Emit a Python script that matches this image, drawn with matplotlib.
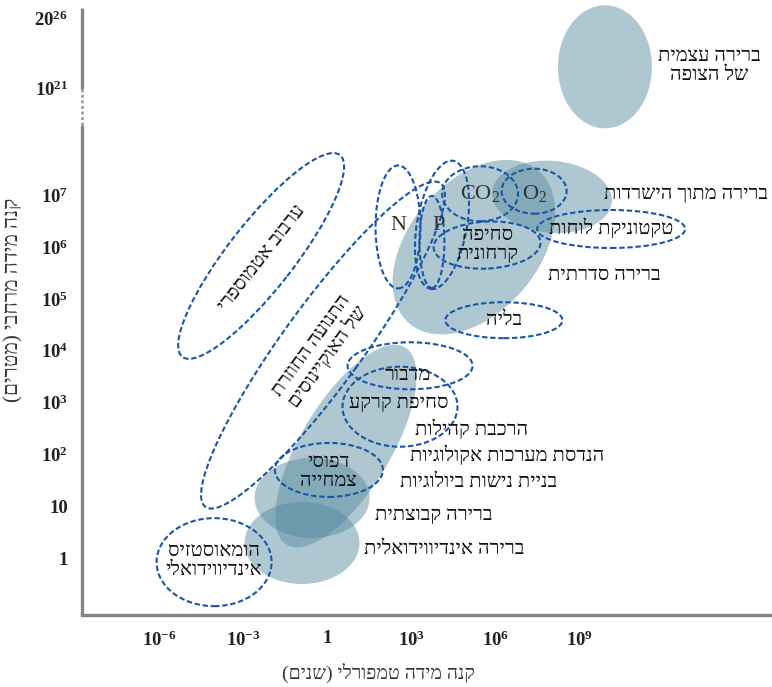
import matplotlib
matplotlib.use('Agg')
import matplotlib.pyplot as plt
from matplotlib.patches import Ellipse
from matplotlib.transforms import ScaledTranslation, blended_transform_factory

plt.rcParams['font.family'] = ['Liberation Serif', 'DejaVu Serif']
plt.rcParams['mathtext.fontset'] = 'custom'
plt.rcParams['mathtext.rm'] = 'Liberation Serif:bold'
plt.rcParams['mathtext.it'] = 'Liberation Serif:bold'

# axes: x = log10(years), y = decades of metres (upper part of the axis is compressed)
x_ticks = [-6, -3, 0, 3, 6, 9]
x_tick_labels = [r'$10^{-6}$', r'$10^{-3}$', '1', r'$10^{3}$', r'$10^{6}$', r'$10^{9}$']
y_ticks = [0, 1, 2, 3, 4, 5, 6, 7, 9.07, 10.42]
y_tick_labels = ['1', '10', r'$10^{2}$', r'$10^{3}$', r'$10^{4}$', r'$10^{5}$',
                 r'$10^{6}$', r'$10^{7}$', r'$10^{21}$', r'$20^{26}$']
x_label = 'קנה מידה טמפורלי (שנים)'
y_label = 'קנה מידה מרחבי (מטרים)'

# filled regions: centre (log t, log L), size in px, angle
fill_x = [9.92, 5.24, 8.03, 0.67, -0.54, -0.90]
fill_y = [9.48, 6.00, 6.97, 2.16, 1.16, 0.29]
fill_w = [94, 200, 120, 230, 115, 115]
fill_h = [123, 130, 72, 90, 80, 82]
fill_ang = [0, 50, -5, 59, 0, 0]

# dashed processes
dash_x = [-2.36, -0.15, 2.53, 4.10, 3.74, 5.46, 7.39, 5.71, 10.14, 6.31, 2.96, 2.60, 0.06, -4.04]
dash_y = [5.83, 4.11, 6.39, 6.43, 6.10, 7.03, 7.08, 6.04, 6.35, 4.59, 3.71, 2.92, 1.70, -0.08]
dash_w = [256, 400, 45, 50, 25, 76, 65, 107, 148, 117, 125, 115, 108, 115]
dash_h = [66, 80, 123, 130, 92, 55, 45, 47, 38, 36, 47, 80, 54, 88]
dash_ang = [52, 54, 0, -10, 0, 0, 0, 3, 0, 0, 0, 0, 0, 0]

# labels
lab_text = ['ברירה עצמית\nשל הצופה', 'טקטוניקת לוחות', 'סחיפה\nקרחונית',
            'ברירה סדרתית', 'בליה', 'ערבוב אטמוספרי', 'התנועה החוזרת\nשל האוקיינוסים',
            'מדבור', 'סחיפת קרקע', 'הרכבת קהילות', 'הנדסת מערכות אקולוגיות',
            'בניית נישות ביולוגיות', 'דפוסי\nצמחייה', 'ברירה קבוצתית',
            'ברירה אינדיווידואלית', 'הומאוסטזיס\nאינדיווידואלי']
lab_x = [13.64, 10.14, 5.71, 9.89, 6.31, -2.33, -0.26, 2.89, 2.56, 5.14, 6.42, 5.42, 0.06, 3.81, 4.17, -4.04]
lab_y = [9.50, 6.35, 6.04, 5.46, 4.58, 5.79, 3.98, 3.53, 2.99, 2.47, 1.97, 1.47, 1.66, 0.83, 0.17, -0.06]
lab_rot = [0, 0, 0, 0, 0, 52, 54, 0, 0, 0, 0, 0, 0, 0, 0, 0]

chem_text = [r'$\mathregular{CO_2}$', r'$\mathregular{O_2}$', 'N', 'P']
chem_x = [5.46, 7.39, 2.53, 3.96]
chem_y = [7.03, 7.03, 6.41, 6.41]

survival_text = 'ברירה מתוך הישרדות'
survival_x, survival_y = 15.74, 7.01


def rtl(s):
    # matplotlib has no bidi support: flip each line by hand
    swap = {'(': ')', ')': '('}
    return '\n'.join(''.join(swap.get(c, c) for c in line[::-1]) for line in s.split('\n'))


fig = plt.figure(figsize=(7.72, 6.87), dpi=100)
ax = fig.add_axes([82 / 772, 72 / 687, 690 / 772, 615 / 687])


def oval(x, y, w, h, ang, **kw):
    e = Ellipse((0, 0), w, h, angle=ang,
                transform=ScaledTranslation(x, y, ax.transData), **kw)
    ax.add_patch(e)


for x, y, w, h, a in zip(fill_x, fill_y, fill_w, fill_h, fill_ang):
    oval(x, y, w, h, a, facecolor='#55889f', alpha=0.47, edgecolor='none', zorder=1)

for x, y, w, h, a in zip(dash_x, dash_y, dash_w, dash_h, dash_ang):
    oval(x, y, w, h, a, facecolor='none', edgecolor='#1b56a6', lw=1.5,
         linestyle=(0, (2.6, 1.3)), zorder=2)

txt = '#111111'
for t, x, y, r in zip(lab_text, lab_x, lab_y, lab_rot):
    ax.text(x, y, rtl(t), ha='center', va='center', rotation=r, rotation_mode='anchor',
            fontsize=14.5, color=txt, linespacing=1.0, zorder=3)

for t, x, y in zip(chem_text, chem_x, chem_y):
    ax.text(x, y, t, ha='center', va='center', fontsize=16, color='#333333', zorder=3)

ax.text(survival_x, survival_y, rtl(survival_text), ha='right', va='center',
        fontsize=14.5, color=txt, zorder=3, clip_on=False)

ax.set_xlim(-8.757, 15.886)
ax.set_ylim(-1.10, 10.77)

ax.set_xticks(x_ticks)
ax.set_xticklabels(x_tick_labels)
ax.set_yticks(y_ticks)
ax.set_yticklabels(y_tick_labels)
ax.tick_params(length=0, labelsize=13.5, labelcolor='#222222')
ax.tick_params(axis='x', pad=11)
ax.tick_params(axis='y', pad=10)
for lb in ax.get_xticklabels() + ax.get_yticklabels():
    lb.set_fontweight('bold')

for s in ['top', 'right', 'left']:
    ax.spines[s].set_visible(False)
ax.spines['bottom'].set_color('#858585')
ax.spines['bottom'].set_linewidth(2.4)

# broken y axis
tr = blended_transform_factory(ax.transAxes, ax.transData)
ax.plot([0, 0], [-1.10, 8.35], color='#858585', lw=2.4, transform=tr, clip_on=False,
        solid_capstyle='butt')
ax.plot([0, 0], [8.35, 9.05], color='#9a9a9a', lw=2.0, transform=tr, clip_on=False,
        linestyle=(0, (1, 1)))
ax.plot([0, 0], [9.05, 10.62], color='#858585', lw=2.4, transform=tr, clip_on=False,
        solid_capstyle='butt')

fig.text(378 / 772, 1 - 673 / 687, rtl(x_label), ha='center', va='center',
         fontsize=14, color='#333333')
fig.text(14 / 772, 1 - 300 / 687, rtl(y_label), ha='center', va='center',
         rotation=90, fontsize=15, color='#333333')

fig.savefig('out.png', dpi=100)
